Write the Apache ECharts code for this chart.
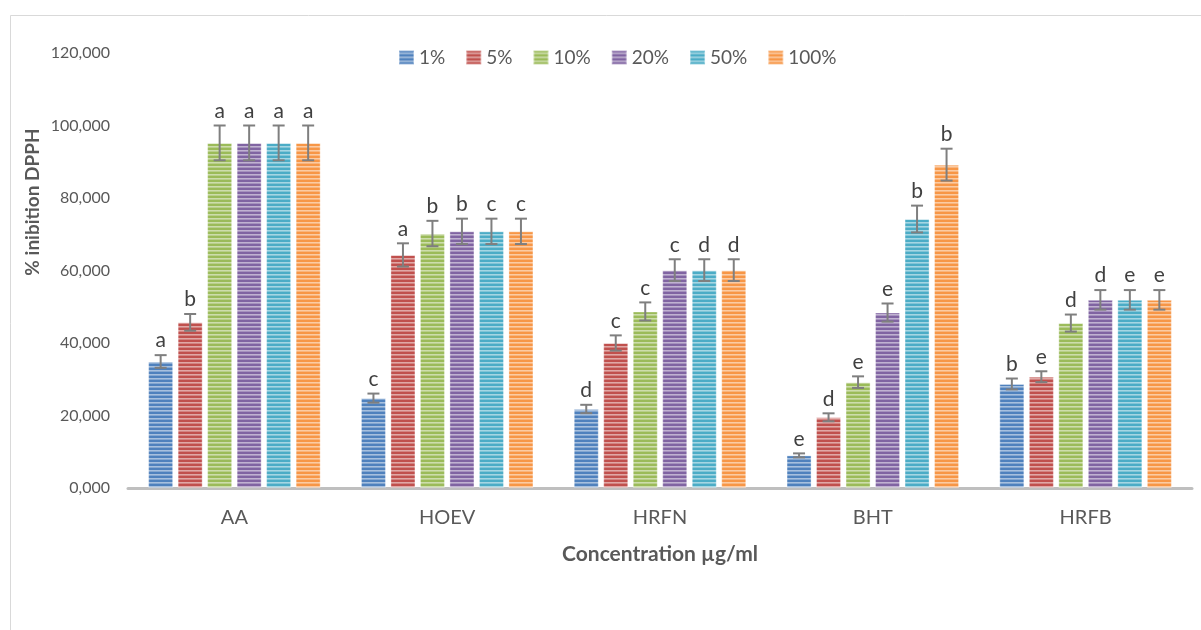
<!DOCTYPE html>
<html>
<head>
<meta charset="utf-8">
<script src="https://cdn.jsdelivr.net/npm/echarts@6/dist/echarts.min.js"></script>
<style>
  html, body { margin: 0; padding: 0; background: #fff; }
  #chart { width: 1201px; height: 630px; }
</style>
</head>
<body>
<div id="chart"></div>
<script>
// data (% inhibition, error = +/- half bar)
const categories = ["AA", "HOEV", "HRFN", "BHT", "HRFB"];
const concentrations = ["1%", "5%", "10%", "20%", "50%", "100%"];
const yTicks = [0, 20, 40, 60, 80, 100, 120];

const val1 = [34.9, 24.8, 21.8, 9.0, 28.7];
const val5 = [45.7, 64.3, 40.0, 19.5, 30.7];
const val10 = [95.2, 70.2, 48.7, 29.2, 45.5];
const val20 = [95.2, 70.8, 60.1, 48.4, 51.9];
const val50 = [95.2, 70.8, 60.1, 74.2, 51.9];
const val100 = [95.2, 70.8, 60.1, 89.2, 51.9];

const err1 = [1.75, 1.25, 1.15, 0.55, 1.5];
const err5 = [2.3, 3.2, 2.1, 1.1, 1.5];
const err10 = [4.8, 3.5, 2.5, 1.6, 2.35];
const err20 = [4.8, 3.5, 3.0, 2.5, 2.7];
const err50 = [4.8, 3.5, 3.0, 3.7, 2.7];
const err100 = [4.8, 3.5, 3.0, 4.4, 2.7];

const let1 = ["a", "c", "d", "e", "b"];
const let5 = ["b", "a", "c", "d", "e"];
const let10 = ["a", "b", "c", "e", "d"];
const let20 = ["a", "b", "c", "e", "d"];
const let50 = ["a", "c", "d", "b", "e"];
const let100 = ["a", "c", "d", "b", "e"];

const values = [val1, val5, val10, val20, val50, val100];
const errors = [err1, err5, err10, err20, err50, err100];
const letters = [let1, let5, let10, let20, let50, let100];
const colors = ["#4F81BD", "#C0504D", "#9BBB59", "#8064A2", "#4BACC6", "#F79646"];

const FONT = "Lato, 'Open Sans', sans-serif";
const BAR_W = 25;
const BAR_GAP = "18%";

// horizontal stripe fill like the excel pattern
function stripe(color) {
  const c = document.createElement("canvas");
  c.width = 8;
  c.height = 4;
  const ctx = c.getContext("2d");
  ctx.fillStyle = color;
  ctx.fillRect(0, 0, 8, 4);
  ctx.fillStyle = "rgba(255,255,255,0.5)";
  ctx.fillRect(0, 2, 8, 1);
  ctx.fillStyle = "rgba(255,255,255,0.3)";
  ctx.fillRect(0, 3, 8, 1);
  return { image: c, repeat: "repeat" };
}

const chart = echarts.init(document.getElementById("chart"));

const barSeries = concentrations.map((name, i) => ({
  name: name,
  type: "bar",
  barWidth: BAR_W,
  barGap: BAR_GAP,
  data: values[i],
  itemStyle: {
    color: stripe(colors[i]),
    borderColor: "rgba(255,255,255,0.35)",
    borderWidth: 1
  },
  emphasis: { disabled: true },
  z: 2
}));

const errSeries = concentrations.map((name, i) => ({
  name: "err" + name,
  type: "custom",
  z: 5,
  silent: true,
  encode: { x: 0, y: 1 },
  data: categories.map((c, j) => [j, values[i][j], errors[i][j]]),
  renderItem: function (params, api) {
    const cat = api.value(0);
    const v = api.value(1);
    const e = api.value(2);
    let offset = (i - 2.5) * BAR_W * 1.18;
    if (api.barLayout) {
      const lay = api.barLayout({ count: 6, barWidth: BAR_W, barGap: BAR_GAP });
      if (lay && lay[i]) offset = lay[i].offsetCenter;
    }
    const top = api.coord([cat, v + e]);
    const bot = api.coord([cat, v - e]);
    const x = top[0] + offset;
    const lineStyle = { stroke: "#7F7F7F", lineWidth: 2 };
    return {
      type: "group",
      children: [
        { type: "line", shape: { x1: x, y1: top[1], x2: x, y2: bot[1] }, style: lineStyle },
        { type: "line", shape: { x1: x - 6, y1: top[1], x2: x + 6, y2: top[1] }, style: lineStyle },
        { type: "line", shape: { x1: x - 6, y1: bot[1], x2: x + 6, y2: bot[1] }, style: lineStyle },
        {
          type: "text",
          style: {
            text: letters[i][params.dataIndex],
            x: x,
            y: top[1] - 4,
            fill: "#404040",
            fontSize: 21,
            fontFamily: FONT,
            align: "center",
            verticalAlign: "bottom"
          }
        }
      ]
    };
  }
}));

const option = {
  backgroundColor: "#fff",
  animation: false,
  grid: { left: 128, right: 9, top: 53, bottom: 142 },
  legend: {
    data: concentrations,
    left: 393,
    top: 43,
    itemWidth: 15,
    itemHeight: 14,
    itemGap: 20,
    icon: "rect",
    textStyle: { fontSize: 19, color: "#595959", fontFamily: FONT }
  },
  xAxis: {
    type: "category",
    data: categories,
    axisLine: { lineStyle: { color: "#BFBFBF", width: 3 } },
    axisTick: { show: false },
    axisLabel: { fontSize: 20, color: "#595959", fontFamily: FONT, margin: 20 },
    name: "Concentration µg/ml",
    nameLocation: "middle",
    nameGap: 56,
    nameTextStyle: { fontSize: 21, fontWeight: "bold", color: "#595959", fontFamily: FONT }
  },
  yAxis: {
    type: "value",
    min: yTicks[0],
    max: yTicks[yTicks.length - 1],
    interval: yTicks[1] - yTicks[0],
    axisLine: { show: false },
    axisTick: { show: false },
    splitLine: { show: false },
    axisLabel: {
      fontSize: 16,
      color: "#595959",
      fontFamily: FONT,
      margin: 18,
      formatter: v => v.toFixed(3).replace(".", ",")
    }
  },
  graphic: [
    {
      type: "rect",
      shape: { x: 10.5, y: 15.5, width: 1300, height: 700 },
      style: { fill: "none", stroke: "#D9D9D9", lineWidth: 1 },
      silent: true
    },
    {
      type: "text",
      x: 33,
      y: 202,
      rotation: Math.PI / 2,
      style: {
        text: "% inibition DPPH",
        fill: "#595959",
        fontSize: 19,
        fontWeight: "bold",
        fontFamily: FONT,
        align: "center",
        verticalAlign: "middle"
      }
    }
  ],
  series: barSeries.concat(errSeries)
};

chart.setOption(option);
</script>
</body>
</html>
